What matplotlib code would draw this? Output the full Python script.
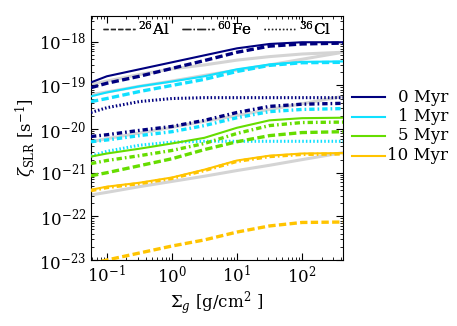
import numpy as np
import matplotlib
matplotlib.use("Agg")
import matplotlib.pyplot as plt
from matplotlib.lines import Line2D

plt.rcParams['font.family'] = ['DejaVu Serif']
plt.rcParams['mathtext.fontset'] = 'dejavuserif'

# Surface density grid (g/cm^2)
sigma = [0.057, 0.1, 0.316, 1.0, 3.16, 10.0, 31.6, 100.0, 427.0]

# log10 ionisation rates
tot_0 = [-18.93, -18.79, -18.63, -18.47, -18.31, -18.15, -18.05, -18.01, -18.01]
al_0  = [-19.05, -18.95, -18.79, -18.61, -18.43, -18.24, -18.10, -18.05, -18.03]
fe_0  = [-20.17, -20.13, -20.03, -19.94, -19.80, -19.62, -19.48, -19.43, -19.41]
cl_0  = [-19.62, -19.51, -19.37, -19.30, -19.28, -19.28, -19.28, -19.28, -19.28]

tot_1 = [-19.25, -19.16, -19.02, -18.91, -18.79, -18.63, -18.52, -18.46, -18.45]
al_1  = [-19.37, -19.30, -19.14, -19.00, -18.86, -18.68, -18.54, -18.48, -18.47]
fe_1  = [-20.29, -20.25, -20.15, -20.06, -19.92, -19.74, -19.60, -19.55, -19.53]
cl_1  = [-20.62, -20.51, -20.37, -20.30, -20.28, -20.28, -20.28, -20.28, -20.28]

tot_5 = [-20.63, -20.56, -20.45, -20.33, -20.20, -19.97, -19.80, -19.75, -19.74]
al_5  = [-21.07, -21.00, -20.84, -20.68, -20.47, -20.29, -20.15, -20.08, -20.06]
fe_5  = [-20.79, -20.72, -20.61, -20.49, -20.33, -20.10, -19.92, -19.85, -19.84]

tot_10 = [-21.39, -21.32, -21.23, -21.11, -20.93, -20.72, -20.61, -20.56, -20.55]
al_10  = [-23.09, -23.00, -22.84, -22.68, -22.54, -22.36, -22.22, -22.14, -22.13]
fe_10  = [-21.41, -21.34, -21.25, -21.13, -20.95, -20.74, -20.63, -20.58, -20.57]

# grey reference curves
grey_a = [-18.98, -18.90, -18.75, -18.62, -18.53, -18.42, -18.34, -18.28, -18.24]
grey_b = [-19.21, -19.15, -19.02, -18.90, -18.77, -18.65, -18.53, -18.40, -18.24]
grey_c = [-20.29, -20.22, -20.09, -19.96, -19.82, -19.69, -19.55, -19.42, -19.25]
grey_d = [-21.51, -21.45, -21.32, -21.20, -21.08, -20.95, -20.83, -20.70, -20.54]

ages = ['0 Myr', '1 Myr', '5 Myr', '10 Myr']
colors = ['#00007f', '#10e0ff', '#66dd00', '#ffc400']

W, H = 457, 326
fig = plt.figure(figsize=(W / 100, H / 100), dpi=100)
ax = fig.add_axes([91 / W, 1 - 260 / H, 252 / W, 244 / H])

def p(v):
    return 10.0 ** np.array(v)

grey = '#d4d4d4'
for g in (grey_a, grey_b, grey_c, grey_d):
    ax.plot(sigma, p(g), color=grey, lw=2.2, zorder=1)

dash = (0, (2.2, 1.0))
dashdot = (0, (1.6, 0.9, 0.5, 0.9))
dot = (0, (0.5, 0.7))

sets = [
    (tot_0, al_0, fe_0, cl_0),
    (tot_1, al_1, fe_1, cl_1),
    (tot_5, al_5, fe_5, None),
    (tot_10, al_10, fe_10, None),
]
for (tot, al, fe, cl), c in zip(sets, colors):
    ax.plot(sigma, p(tot), color=c, lw=1.5, ls='-', zorder=3)
    ax.plot(sigma, p(al), color=c, lw=2.4, ls=dash, zorder=3)
    ax.plot(sigma, p(fe), color=c, lw=2.4, ls=dashdot, zorder=3)
    if cl is not None:
        ax.plot(sigma, p(cl), color=c, lw=2.2, ls=dot, zorder=3)

ax.set_xscale('log')
ax.set_yscale('log')
ax.set_xlim(0.057, 427)
ax.set_ylim(1e-23, 3.9e-18)
ax.tick_params(which='both', direction='in', top=True, right=True, labelsize=12)
ax.tick_params(which='major', length=5)
ax.tick_params(which='minor', length=2.5)
ax.set_xlabel(r'$\Sigma_g$ [g/cm$^2$ ]', fontsize=12, labelpad=2)
ax.set_ylabel(r'$\zeta_{\rm SLR}$ [s$^{-1}$]', fontsize=12, labelpad=0)

style_handles = [
    Line2D([], [], color='#222222', lw=1, ls='--'),
    Line2D([], [], color='#222222', lw=1, ls='-.'),
    Line2D([], [], color='#222222', lw=1, ls=':'),
]
leg1 = ax.legend(style_handles, [r'$^{26}$Al', r'$^{60}$Fe', r'$^{36}$Cl'],
                 loc='upper center', ncol=3, frameon=False, fontsize=11,
                 handlelength=2.1, handletextpad=0.2, columnspacing=0.8,
                 borderaxespad=0.15, borderpad=0.1, bbox_to_anchor=(0.5, 1.0))
ax.add_artist(leg1)

# right-hand colour key (labels right-aligned as in the original)
for i, (age, c) in enumerate(zip(ages, colors)):
    yp = 1 - (97 + 19.5 * i) / H
    fig.add_artist(Line2D([352 / W, 385 / W], [yp, yp], color=c, lw=1.5,
                          transform=fig.transFigure))
    fig.text(448 / W, yp, age, ha='right', va='center', fontsize=12)

fig.savefig('out.png', dpi=100)
